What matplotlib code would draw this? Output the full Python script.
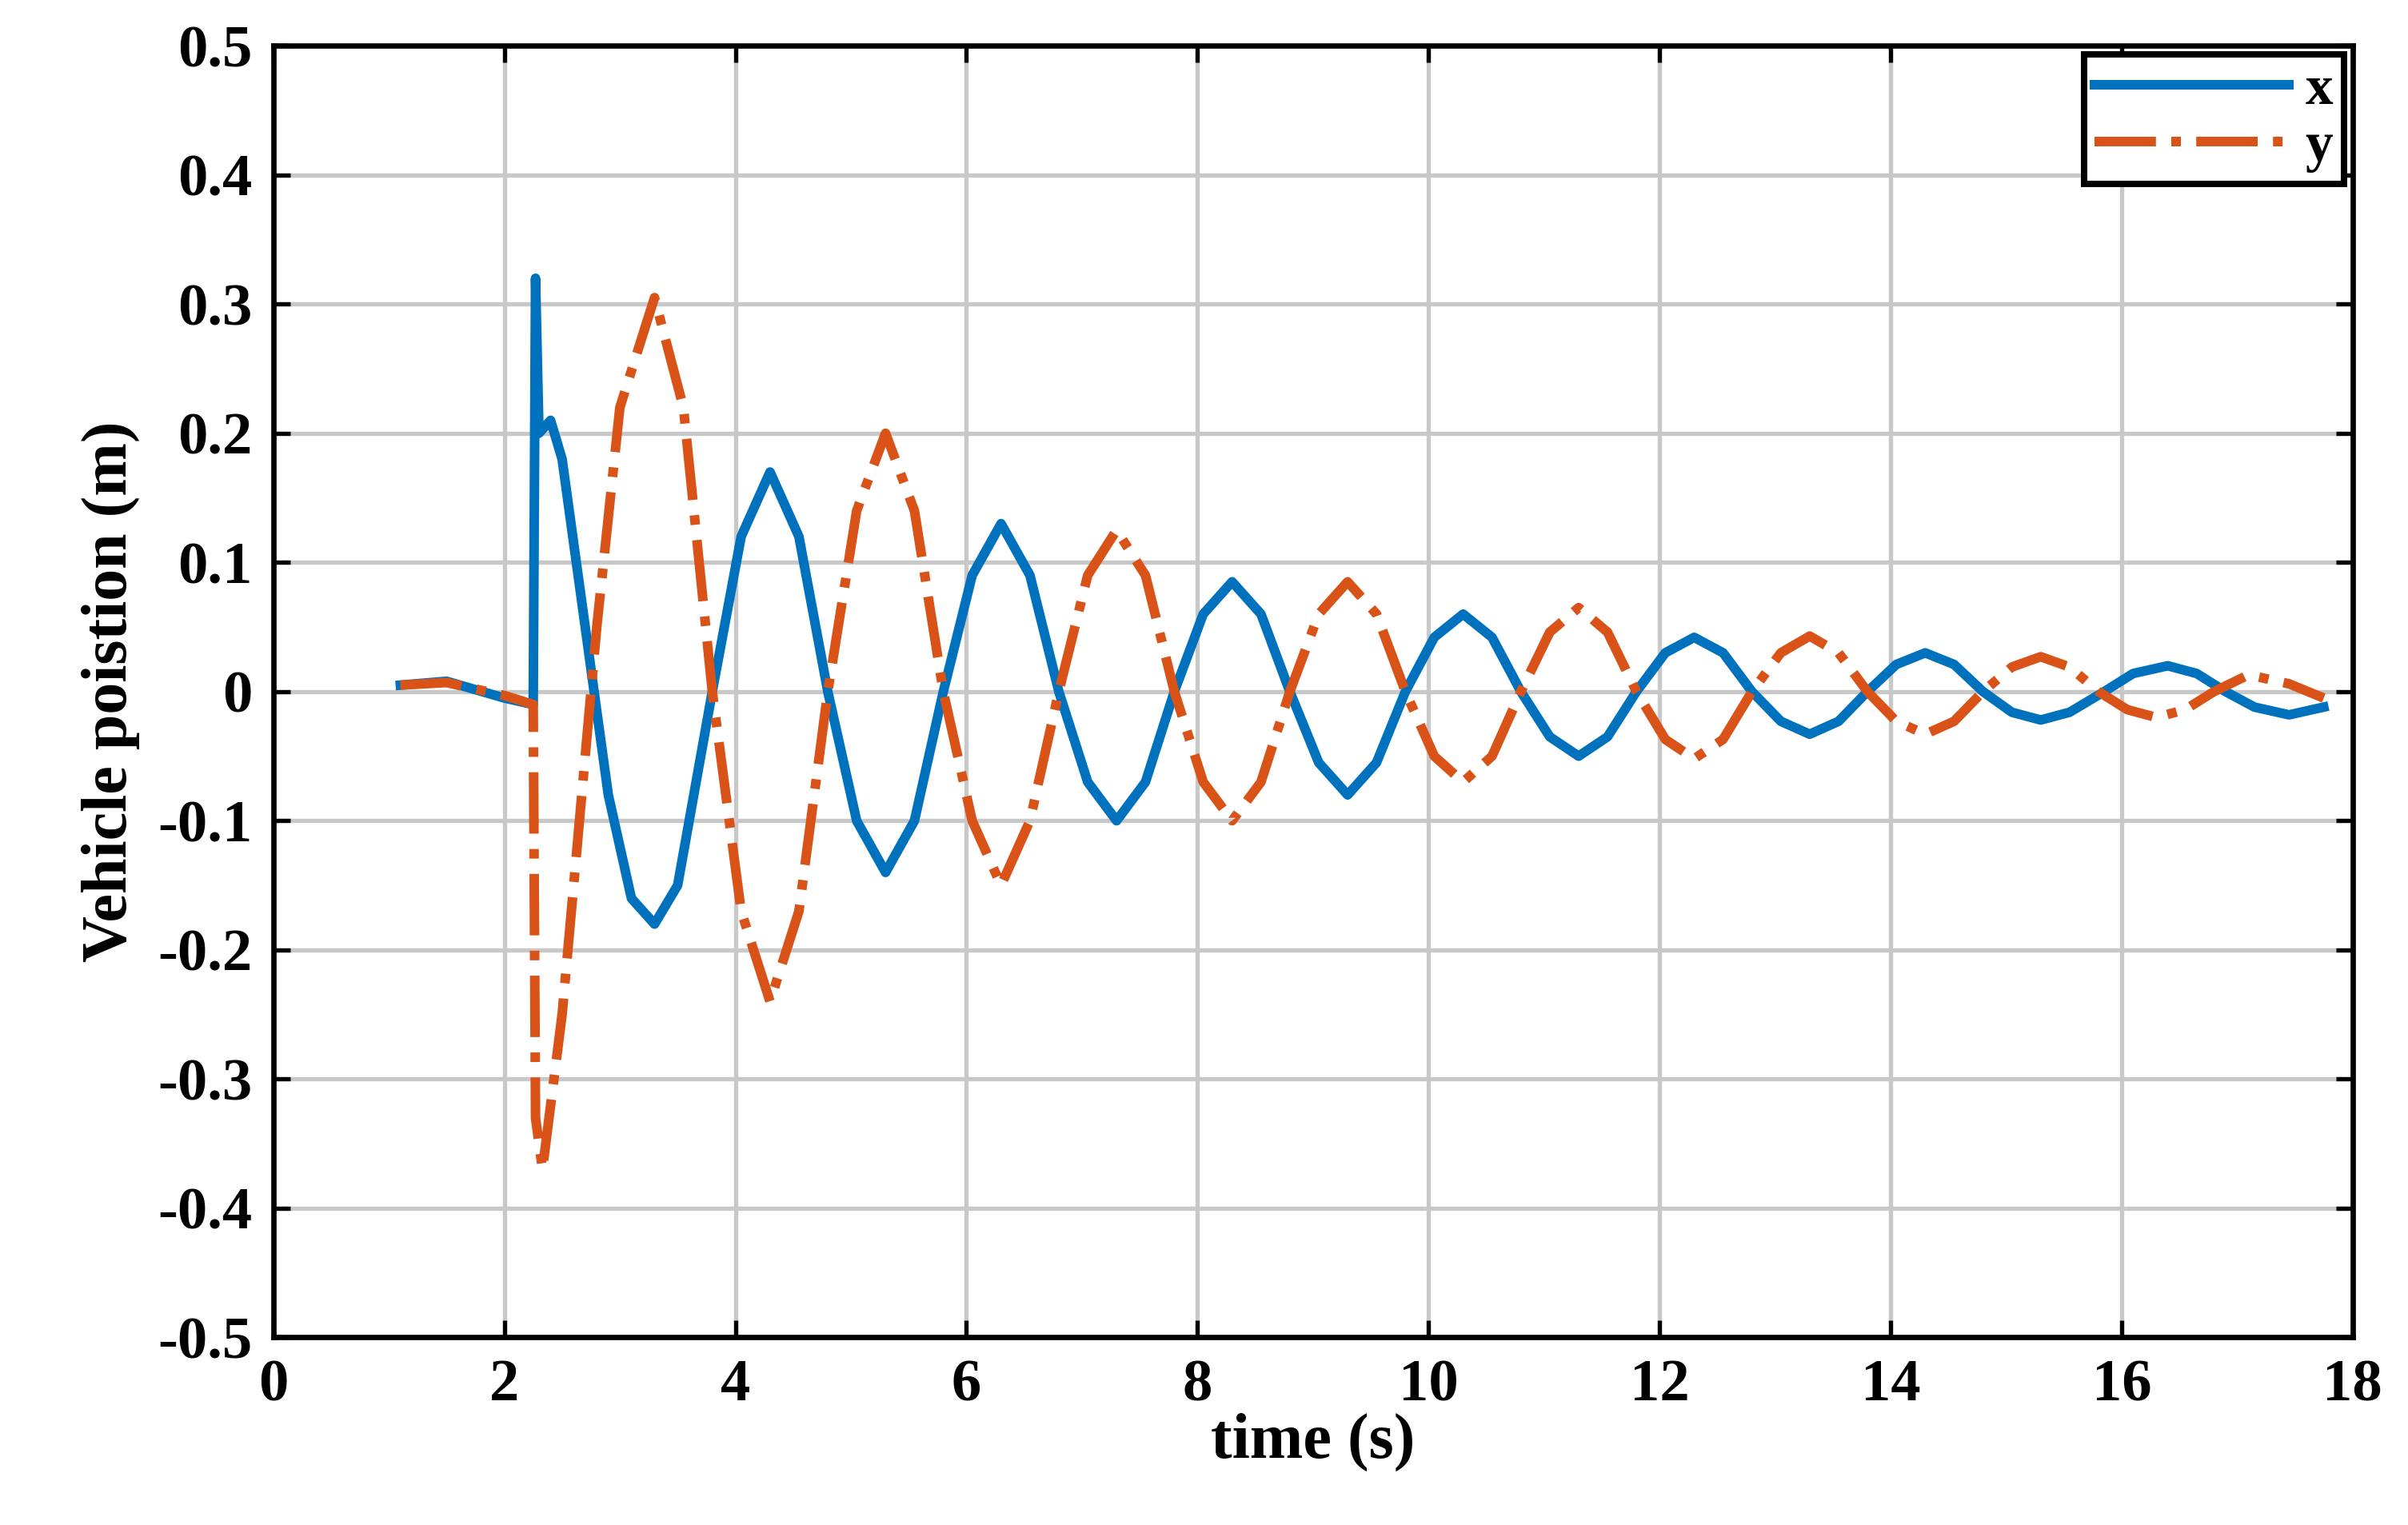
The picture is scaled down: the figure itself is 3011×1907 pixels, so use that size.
import matplotlib
matplotlib.use("Agg")
import matplotlib.pyplot as plt

# points (time s, position m)
t_x = [1.1, 1.5, 2.0, 2.25, 2.27, 2.3, 2.4, 2.5, 2.7, 2.9, 3.1, 3.3, 3.5, 3.7, 3.8,
       4.05, 4.3, 4.55, 4.8, 5.05, 5.3, 5.55, 5.8, 6.05, 6.3, 6.55, 6.8, 7.05, 7.3, 7.55,
       7.8, 8.05, 8.3, 8.55, 8.8, 9.05, 9.3, 9.55, 9.8, 10.05, 10.3, 10.55, 10.8, 11.05,
       11.3, 11.55, 11.8, 12.05, 12.3, 12.55, 12.8, 13.05, 13.3, 13.55, 13.8, 14.05, 14.3,
       14.55, 14.8, 15.05, 15.3, 15.55, 15.85, 16.1, 16.4, 16.65, 16.9, 17.15, 17.45, 17.75]
x_pos = [0.005, 0.008, -0.005, -0.01, 0.32, 0.2, 0.21, 0.18, 0.05, -0.08, -0.16, -0.18, -0.15, -0.05, 0.0,
         0.12, 0.17, 0.12, 0.0, -0.1, -0.14, -0.1, 0.0, 0.09, 0.13, 0.09, 0.0, -0.07, -0.1, -0.07,
         0.0, 0.06, 0.085, 0.06, 0.0, -0.055, -0.08, -0.055, 0.0, 0.042, 0.06, 0.042, 0.0, -0.035,
         -0.05, -0.035, 0.0, 0.03, 0.042, 0.03, 0.0, -0.023, -0.033, -0.023, 0.0, 0.021, 0.03,
         0.021, 0.0, -0.016, -0.022, -0.016, 0.0, 0.014, 0.02, 0.014, 0.0, -0.012, -0.018, -0.012]

t_y = [1.1, 1.5, 2.0, 2.25, 2.27, 2.33, 2.5, 2.7, 2.8, 3.0, 3.3, 3.55, 3.8, 4.05, 4.3,
       4.55, 4.8, 5.05, 5.3, 5.55, 5.8, 6.05, 6.3, 6.55, 6.8, 7.05, 7.3, 7.55, 7.8, 8.05,
       8.3, 8.55, 8.8, 9.05, 9.3, 9.55, 9.8, 10.05, 10.3, 10.55, 10.8, 11.05, 11.3, 11.55,
       11.8, 12.05, 12.3, 12.55, 12.8, 13.05, 13.3, 13.55, 13.8, 14.05, 14.3, 14.55, 14.8,
       15.05, 15.3, 15.55, 15.8, 16.05, 16.3, 16.55, 16.8, 17.1, 17.45, 17.75]
y_pos = [0.005, 0.007, -0.003, -0.01, -0.33, -0.37, -0.25, -0.05, 0.05, 0.22, 0.305, 0.22, 0.0, -0.17, -0.24,
         -0.17, 0.0, 0.14, 0.2, 0.14, 0.0, -0.1, -0.15, -0.1, 0.0, 0.09, 0.125, 0.09, 0.0, -0.07,
         -0.1, -0.07, 0.0, 0.06, 0.085, 0.06, 0.0, -0.05, -0.07, -0.05, 0.0, 0.046, 0.065, 0.046,
         0.0, -0.037, -0.052, -0.037, 0.0, 0.03, 0.043, 0.03, 0.0, -0.023, -0.033, -0.023, 0.0,
         0.019, 0.027, 0.019, 0.0, -0.014, -0.02, -0.014, 0.0, 0.013, 0.006, -0.005]

plt.rcParams["font.family"] = ["Liberation Serif", "DejaVu Serif"]
plt.rcParams["font.weight"] = "bold"

fig = plt.figure(figsize=(3011 / 192, 1907 / 192), dpi=192)
ax = fig.add_axes([0.1135, 0.123, 0.8635, 0.847])
ax.plot(t_x, x_pos, color="#0072BD", lw=4.5, label="x")
ax.plot(t_y, y_pos, color="#D95319", lw=4.5, ls="-.", label="y")

ax.set_xlim(0, 18)
ax.set_ylim(-0.5, 0.5)
ax.set_xticks(range(0, 19, 2))
ax.set_yticks([-0.5, -0.4, -0.3, -0.2, -0.1, 0, 0.1, 0.2, 0.3, 0.4, 0.5])
ax.set_yticklabels(["-0.5", "-0.4", "-0.3", "-0.2", "-0.1", "0", "0.1", "0.2", "0.3", "0.4", "0.5"])
ax.tick_params(labelsize=28, width=2, length=8, direction="in", top=True, right=True, pad=10)
for lab in ax.get_xticklabels() + ax.get_yticklabels():
    lab.set_fontweight("bold")
ax.grid(color="#c8c8c8", lw=2)
for s in ax.spines.values():
    s.set_linewidth(2.5)
ax.set_xlabel("time (s)", fontsize=30, fontweight="bold", labelpad=0)
ax.set_ylabel("Vehicle poistion (m)", fontsize=30, fontweight="bold", labelpad=8)

leg = ax.legend(loc="upper right", fontsize=26, handlelength=3.5, fancybox=False,
                framealpha=1, borderaxespad=0.15, labelspacing=0.1, borderpad=0.2,
                handletextpad=0.3, markerfirst=True)
leg.get_frame().set_edgecolor("black")
leg.get_frame().set_linewidth(3)

fig.savefig("out.png", dpi=192)
